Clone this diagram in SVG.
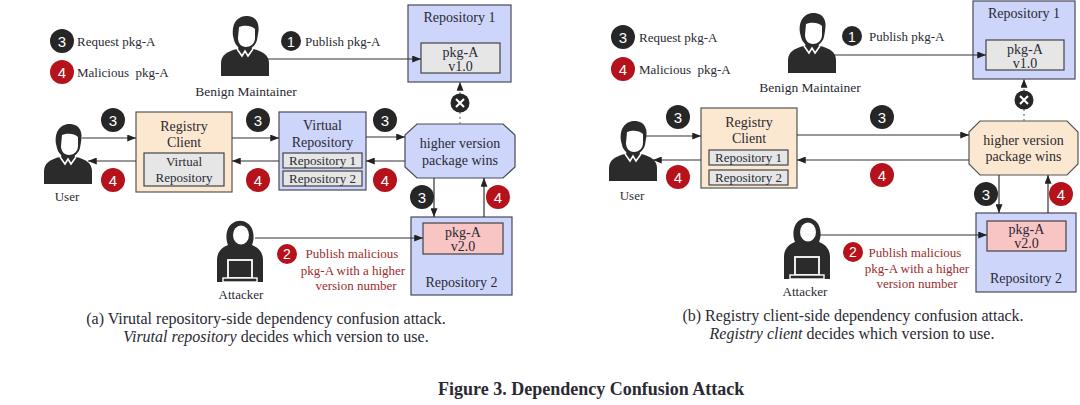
<svg xmlns="http://www.w3.org/2000/svg" width="1080" height="405" viewBox="0 0 1080 405">
<defs>
<style>
text{font-family:"Liberation Serif","Times New Roman",serif;fill:#2a2a33}
.c{text-anchor:middle}
.n{font-size:14px}
.s{font-size:13px}
.red{fill:#9b2c2c}
.num{font-family:"Liberation Sans",Arial,sans-serif;font-size:15px;fill:#fff;text-anchor:middle}
.blue{fill:#cdd5fa;stroke:#4a4a5a;stroke-width:1.2}
.peach{fill:#fce8d0;stroke:#555;stroke-width:1.2}
.gray{fill:#e6e6e6;stroke:#444;stroke-width:1.2}
.pink{fill:#f8c4c4;stroke:#444;stroke-width:1.2}
.bk{fill:#262626}
.rd{fill:#b5121b}
.ln{stroke:#333;stroke-width:1.2;fill:none}
.dash{stroke:#777;stroke-width:1.2;stroke-dasharray:2 3;fill:none}
.cap{font-size:16px}
.ic{fill:#2b2b2b}
</style>
<marker id="ah" viewBox="0 0 10 8" refX="10" refY="4" markerWidth="9" markerHeight="7" markerUnits="userSpaceOnUse" orient="auto">
<path d="M0,0 L10,4 L0,8 Z" fill="#222"/>
</marker>
<g id="person">
<path class="ic" d="M-24,30 L-24,17 C-24,9 -17,5 -8,3 L8,3 C17,5 24,9 24,17 L24,30 Z"/>
<path class="ic" d="M-6,-4 L6,-4 L7,4 L-7,4 Z"/>
<path fill="none" stroke="#fff" stroke-width="1.6" d="M-8,3 L-3,10 L0,5 L3,10 L8,3"/>
<path class="ic" d="M-12,-10 C-14,-25 -5,-31 3,-30 C12,-29 15,-22 13,-12 L12,-6 C10,1 5,3 0,3 C-6,3 -10,-1 -11,-6 Z"/>
<path fill="#fff" d="M-6,-19 C-1,-21 6,-21 10,-17 L10,-8 C10,-2 5,1 1,1 C-4,1 -7,-3 -7,-8 Z"/>
</g>
<g id="attacker">
<path class="ic" d="M-23,30 L-23,8 C-23,-1 -17,-5 -12,-7 C-15,-14 -14,-25 -7,-29 C-3,-32 3,-32 7,-29 C14,-25 15,-14 12,-7 C17,-5 23,-1 23,8 L23,30 Z"/>
<ellipse cx="1" cy="-17" rx="8" ry="9.5" fill="#fff"/>
<rect x="-12" y="8" width="24" height="18" class="ic" stroke="#fff" stroke-width="1.8"/>
<rect x="-17" y="26" width="34" height="4" class="ic" stroke="#fff" stroke-width="1.4"/>
</g>
</defs>
<rect width="1080" height="405" fill="#fff"/>

<!-- ============ Panel (a) ============ -->
<g id="legend-a">
<circle cx="62" cy="41" r="12" class="bk"/><text x="62" y="46.5" class="num">3</text>
<text x="77" y="45.5" class="s">Request pkg-A</text>
<circle cx="62" cy="72" r="12" class="rd"/><text x="62" y="77.5" class="num">4</text>
<text x="77" y="77" class="s" style="white-space:pre">Malicious  pkg-A</text>
</g>
<g id="maintainer-a">
<use href="#person" transform="translate(245,46)"/>
<text x="246" y="96" class="c" style="font-size:13.5px">Benign Maintainer</text>
</g>
<g id="user-a">
<use href="#person" transform="translate(68,154)"/>
<text x="67" y="201" class="c s">User</text>
</g>
<g id="attacker-a">
<use href="#attacker" transform="translate(240,252)"/>
<text x="241" y="299" class="c s">Attacker</text>
</g>
<g id="repo1-a">
<rect x="408" y="5" width="103" height="77" class="blue"/>
<text x="459.5" y="22" class="c n">Repository 1</text>
<rect x="421" y="43" width="79" height="30" class="gray"/>
<text x="460.5" y="56.5" class="c n">pkg-A</text>
<text x="460.5" y="71" class="c n">v1.0</text>
</g>
<g id="client-a">
<rect x="136" y="112" width="96" height="80" class="peach"/>
<text x="184" y="131" class="c n">Registry</text>
<text x="184" y="147" class="c n">Client</text>
<rect x="144" y="153" width="80" height="33" class="gray"/>
<text x="184" y="166" class="c s">Virtual</text>
<text x="184" y="182" class="c s">Repository</text>
</g>
<g id="virtualrepo-a">
<rect x="279" y="112" width="87" height="78" class="blue"/>
<text x="322.5" y="130" class="c n">Virtual</text>
<text x="322.5" y="147" class="c n">Repository</text>
<rect x="283" y="153" width="79" height="15" class="gray"/>
<text x="322.5" y="165" class="c s">Repository 1</text>
<rect x="283" y="171" width="79" height="15" class="gray"/>
<text x="322.5" y="183" class="c s">Repository 2</text>
</g>
<g id="decider-a">
<path d="M417,124 L503,124 L515,135 L515,167 L503,178 L417,178 L405,167 L405,135 Z" class="blue"/>
<text x="460" y="148" class="c n">higher version</text>
<text x="460" y="165" class="c n">package wins</text>
</g>
<g id="repo2-a">
<rect x="411" y="217" width="101" height="78" class="blue"/>
<rect x="423" y="223" width="80" height="31" class="pink"/>
<text x="463" y="237" class="c n">pkg-A</text>
<text x="463" y="251" class="c n">v2.0</text>
<text x="461.5" y="287" class="c n">Repository 2</text>
</g>
<g id="connectors-a">
<line x1="268" y1="59" x2="421" y2="59" class="ln" marker-end="url(#ah)"/>
<line x1="82" y1="138" x2="136" y2="138" class="ln" marker-end="url(#ah)"/>
<line x1="136" y1="161" x2="88" y2="161" class="ln" marker-end="url(#ah)"/>
<line x1="232" y1="138" x2="279" y2="138" class="ln" marker-end="url(#ah)"/>
<line x1="279" y1="161" x2="232" y2="161" class="ln" marker-end="url(#ah)"/>
<line x1="366" y1="137" x2="405" y2="137" class="ln" marker-end="url(#ah)"/>
<line x1="405" y1="161" x2="366" y2="161" class="ln" marker-end="url(#ah)"/>
<line x1="434" y1="178" x2="434" y2="217" class="ln" marker-end="url(#ah)"/>
<line x1="484" y1="217" x2="484" y2="178" class="ln" marker-end="url(#ah)"/>
<line x1="460" y1="124" x2="460" y2="82" class="dash" marker-end="url(#ah)"/>
<line x1="255" y1="238" x2="423" y2="238" class="ln" marker-end="url(#ah)"/>
<circle cx="460" cy="103" r="9.5" class="bk"/>
<path d="M456,99 L464,107 M464,99 L456,107" stroke="#fff" stroke-width="2"/>
<circle cx="291" cy="41" r="10" class="bk"/><text x="291" y="46.5" class="num" style="font-size:14px">1</text>
<text x="305" y="45.5" class="s">Publish pkg-A</text>
<circle cx="113" cy="120" r="12" class="bk"/><text x="113" y="125.5" class="num">3</text>
<circle cx="113" cy="180" r="12" class="rd"/><text x="113" y="185.5" class="num">4</text>
<circle cx="258" cy="120" r="12" class="bk"/><text x="258" y="125.5" class="num">3</text>
<circle cx="258" cy="180" r="12" class="rd"/><text x="258" y="185.5" class="num">4</text>
<circle cx="385" cy="120" r="12" class="bk"/><text x="385" y="125.5" class="num">3</text>
<circle cx="385" cy="180" r="12" class="rd"/><text x="385" y="185.5" class="num">4</text>
<circle cx="422" cy="197" r="12" class="bk"/><text x="422" y="202.5" class="num">3</text>
<circle cx="498" cy="197" r="12" class="rd"/><text x="498" y="202.5" class="num">4</text>
<circle cx="287" cy="254" r="10" class="rd"/><text x="287" y="259" class="num" style="font-size:14px">2</text>
<text x="352" y="258" class="c s red">Publish malicious</text>
<text x="353" y="274.5" class="c s red">pkg-A with a higher</text>
<text x="356" y="290" class="c s red">version number</text>
</g>
<g id="caption-a">
<text x="266" y="324" class="c cap">(a) Virutal repository-side dependency confusion attack.</text>
<text x="276" y="342" class="c cap"><tspan font-style="italic">Virutal repository</tspan> decides which version to use.</text>
</g>

<!-- ============ Panel (b) ============ -->
<g id="legend-b">
<circle cx="623" cy="37" r="12" class="bk"/><text x="623" y="42.5" class="num">3</text>
<text x="639" y="41.5" class="s">Request pkg-A</text>
<circle cx="623" cy="69" r="12" class="rd"/><text x="623" y="74.5" class="num">4</text>
<text x="639" y="73.5" class="s" style="white-space:pre">Malicious  pkg-A</text>
</g>
<g id="maintainer-b">
<use href="#person" transform="translate(812,43)"/>
<text x="810" y="92" class="c" style="font-size:13.5px">Benign Maintainer</text>
</g>
<g id="user-b">
<use href="#person" transform="translate(633,151)"/>
<text x="632" y="200" class="c s">User</text>
</g>
<g id="attacker-b">
<use href="#attacker" transform="translate(807,249)"/>
<text x="805" y="296" class="c s">Attacker</text>
</g>
<g id="repo1-b">
<rect x="973" y="1" width="102" height="78" class="blue"/>
<text x="1024" y="18" class="c n">Repository 1</text>
<rect x="986" y="40" width="78" height="30" class="gray"/>
<text x="1025" y="53.5" class="c n">pkg-A</text>
<text x="1025" y="68" class="c n">v1.0</text>
</g>
<g id="client-b">
<rect x="701" y="108" width="96" height="80" class="peach"/>
<text x="749" y="127" class="c n">Registry</text>
<text x="749" y="143" class="c n">Client</text>
<rect x="709" y="150" width="79" height="15" class="gray"/>
<text x="748.5" y="162" class="c s">Repository 1</text>
<rect x="709" y="170" width="79" height="15" class="gray"/>
<text x="748.5" y="182" class="c s">Repository 2</text>
</g>
<g id="decider-b">
<path d="M980,121 L1067,121 L1078,132 L1078,164 L1067,175 L980,175 L969,164 L969,132 Z" class="peach"/>
<text x="1023.5" y="145" class="c n">higher version</text>
<text x="1023.5" y="161" class="c n">package wins</text>
</g>
<g id="repo2-b">
<rect x="976" y="213" width="100" height="79" class="blue"/>
<rect x="987" y="221" width="79" height="30" class="pink"/>
<text x="1026.5" y="234" class="c n">pkg-A</text>
<text x="1026.5" y="248" class="c n">v2.0</text>
<text x="1026" y="283" class="c n">Repository 2</text>
</g>
<g id="connectors-b">
<line x1="833" y1="55" x2="986" y2="55" class="ln" marker-end="url(#ah)"/>
<line x1="645" y1="136" x2="701" y2="136" class="ln" marker-end="url(#ah)"/>
<line x1="701" y1="160" x2="653" y2="160" class="ln" marker-end="url(#ah)"/>
<line x1="797" y1="135" x2="969" y2="135" class="ln" marker-end="url(#ah)"/>
<line x1="969" y1="160" x2="797" y2="160" class="ln" marker-end="url(#ah)"/>
<line x1="999" y1="175" x2="999" y2="213" class="ln" marker-end="url(#ah)"/>
<line x1="1048" y1="213" x2="1048" y2="175" class="ln" marker-end="url(#ah)"/>
<line x1="1024" y1="121" x2="1024" y2="79" class="dash" marker-end="url(#ah)"/>
<line x1="820" y1="235" x2="987" y2="235" class="ln" marker-end="url(#ah)"/>
<circle cx="1024" cy="100" r="9.5" class="bk"/>
<path d="M1020,96 L1028,104 M1028,96 L1020,104" stroke="#fff" stroke-width="2"/>
<circle cx="852" cy="36" r="10" class="bk"/><text x="852" y="41.5" class="num" style="font-size:14px">1</text>
<text x="869" y="40.5" class="s">Publish pkg-A</text>
<circle cx="678" cy="117" r="12" class="bk"/><text x="678" y="122.5" class="num">3</text>
<circle cx="678" cy="177" r="12" class="rd"/><text x="678" y="182.5" class="num">4</text>
<circle cx="882" cy="117" r="12" class="bk"/><text x="882" y="122.5" class="num">3</text>
<circle cx="882" cy="175" r="12" class="rd"/><text x="882" y="180.5" class="num">4</text>
<circle cx="986" cy="194" r="12" class="bk"/><text x="986" y="199.5" class="num">3</text>
<circle cx="1061" cy="194" r="12" class="rd"/><text x="1061" y="199.5" class="num">4</text>
<circle cx="853" cy="252" r="10" class="rd"/><text x="853" y="257" class="num" style="font-size:14px">2</text>
<text x="915" y="256.5" class="c s red">Publish malicious</text>
<text x="917" y="272.5" class="c s red">pkg-A with a higher</text>
<text x="917" y="288" class="c s red">version number</text>
</g>
<g id="caption-b">
<text x="853" y="321" class="c cap">(b) Registry client-side dependency confusion attack.</text>
<text x="852" y="339" class="c cap"><tspan font-style="italic">Registry client</tspan> decides which version to use.</text>
</g>

<g id="figure-caption">
<text x="438" y="395" style="font-size:18px;font-weight:bold">Figure 3. Dependency Confusion Attack</text>
</g>
</svg>
